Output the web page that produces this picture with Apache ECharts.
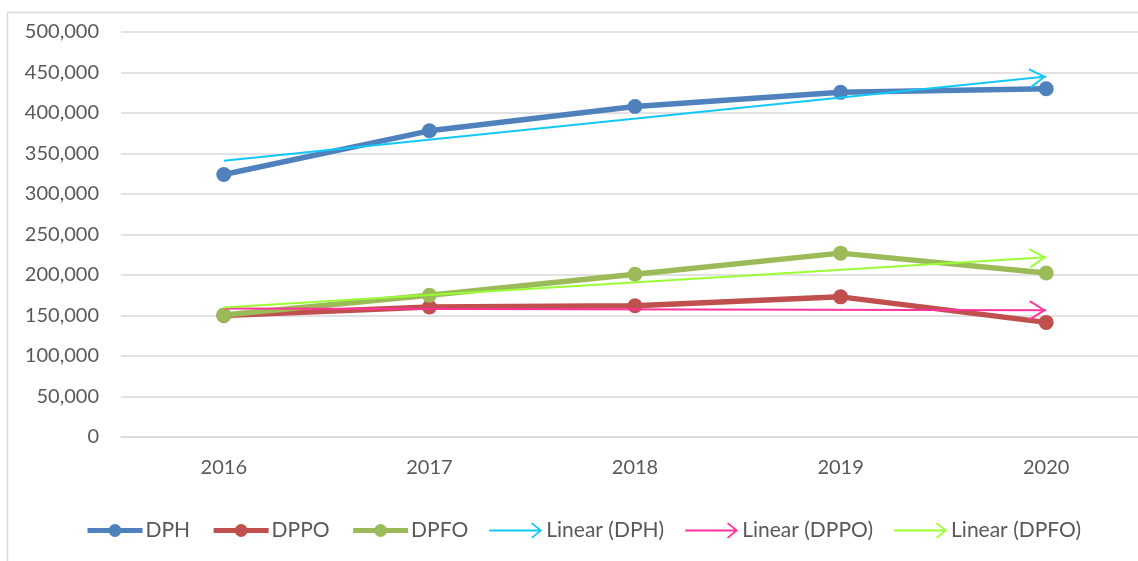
<!DOCTYPE html>
<html><head><meta charset="utf-8">
<script src="https://cdn.jsdelivr.net/npm/echarts@6/dist/echarts.min.js"></script>
<style>html,body{margin:0;padding:0;background:#fff;overflow:hidden}#c{width:1160px;height:561px}</style>
</head><body><div id="c"></div>
<script>
const categories = ['2016','2017','2018','2019','2020'];
const dph  = [324000, 378000, 408000, 425500, 430000];
const dppo = [150000, 160500, 162000, 173000, 141500];
const dpfo = [150500, 175000, 201000, 227000, 202500];
// trendline endpoints [start (2016), end (2020)]
const trendDPH  = [341000, 445000];
const trendDPPO = [158500, 156500];
const trendDPFO = [160000, 222000];
const yTicks = [0, 50000, 100000, 150000, 200000, 250000, 300000, 350000, 400000, 450000, 500000];

const FONT = 'Lato';
const TXT = '#595959';
// chevron with its tip at the centre of the symbol box (tiny invisible point pads the top)
const chev = 'path://M0,33 L10,17 L20,33 L18.3,34 L10,20.6 L1.7,34 Z M10,0 L10.01,0 L10,0.01 Z';
const arrowIcon = 'path://M0,7.1 L52,7.1 L52,8.9 L0,8.9 Z M43,0 L53,8 L43,16 L41.8,14.8 L50.3,8 L41.8,1.2 Z';

function fmt(v){ return String(v).replace(/\B(?=(\d{3})+(?!\d))/g, ','); }

function dataSeries(name, data, color){
  return {name, type:'line', data, color, symbol:'circle', symbolSize:15,
    lineStyle:{width:5.5, color}, itemStyle:{color}, z:2};
}
function trendSeries(name, tr, color){
  return {name, type:'line', data:[], color, symbol:'none', lineStyle:{width:2,color},
    itemStyle:{color}, z:5,
    markLine:{silent:true, animation:false, symbol:['none', chev], symbolSize:[20,34],
      lineStyle:{type:'solid', width:2, color}, label:{show:false}, emphasis:{disabled:true},
      data:[[{coord:[categories[0], tr[0]]},{coord:[categories[categories.length-1], tr[1]]}]]}};
}

const chart = echarts.init(document.getElementById('c'));
chart.setOption({
  animation:false,
  backgroundColor:'#fff',
  graphic:[{type:'rect', shape:{x:7.5,y:12.5,width:1160,height:560}, style:{fill:'none', stroke:'#d9d9d9', lineWidth:1.5}, silent:true}],
  grid:{left:121, top:32, width:1028, height:405, containLabel:false},
  xAxis:{type:'category', data:categories, boundaryGap:true,
    axisLine:{show:true, lineStyle:{color:'#d9d9d9', width:1.5}}, axisTick:{show:false},
    axisLabel:{color:TXT, fontFamily:FONT, fontSize:20, margin:21}},
  yAxis:{type:'value', min:yTicks[0], max:yTicks[yTicks.length-1], interval:yTicks[1]-yTicks[0],
    axisLine:{show:false}, axisTick:{show:false},
    splitLine:{lineStyle:{color:'#d9d9d9', width:1.5}},
    axisLabel:{color:TXT, fontFamily:FONT, fontSize:20, margin:22, formatter:v=>fmt(v)}},
  legend:{left:80, top:515, itemWidth:55, itemHeight:16, itemGap:21,
    textStyle:{color:TXT, fontFamily:FONT, fontSize:21, padding:[0,0,0,-2]},
    data:[{name:'DPH', lineStyle:{width:5}},{name:'DPPO', lineStyle:{width:5}},{name:'DPFO', lineStyle:{width:5}},
      {name:'Linear (DPH)', icon:arrowIcon},{name:'Linear (DPPO)', icon:arrowIcon},{name:'Linear (DPFO)', icon:arrowIcon}]},
  series:[
    dataSeries('DPH', dph, '#4f81bd'),
    dataSeries('DPPO', dppo, '#c0504d'),
    dataSeries('DPFO', dpfo, '#9bbb59'),
    trendSeries('Linear (DPH)', trendDPH, '#12c8f7'),
    trendSeries('Linear (DPPO)', trendDPPO, '#ff3399'),
    trendSeries('Linear (DPFO)', trendDPFO, '#99ff33')
  ]
});
</script></body></html>
